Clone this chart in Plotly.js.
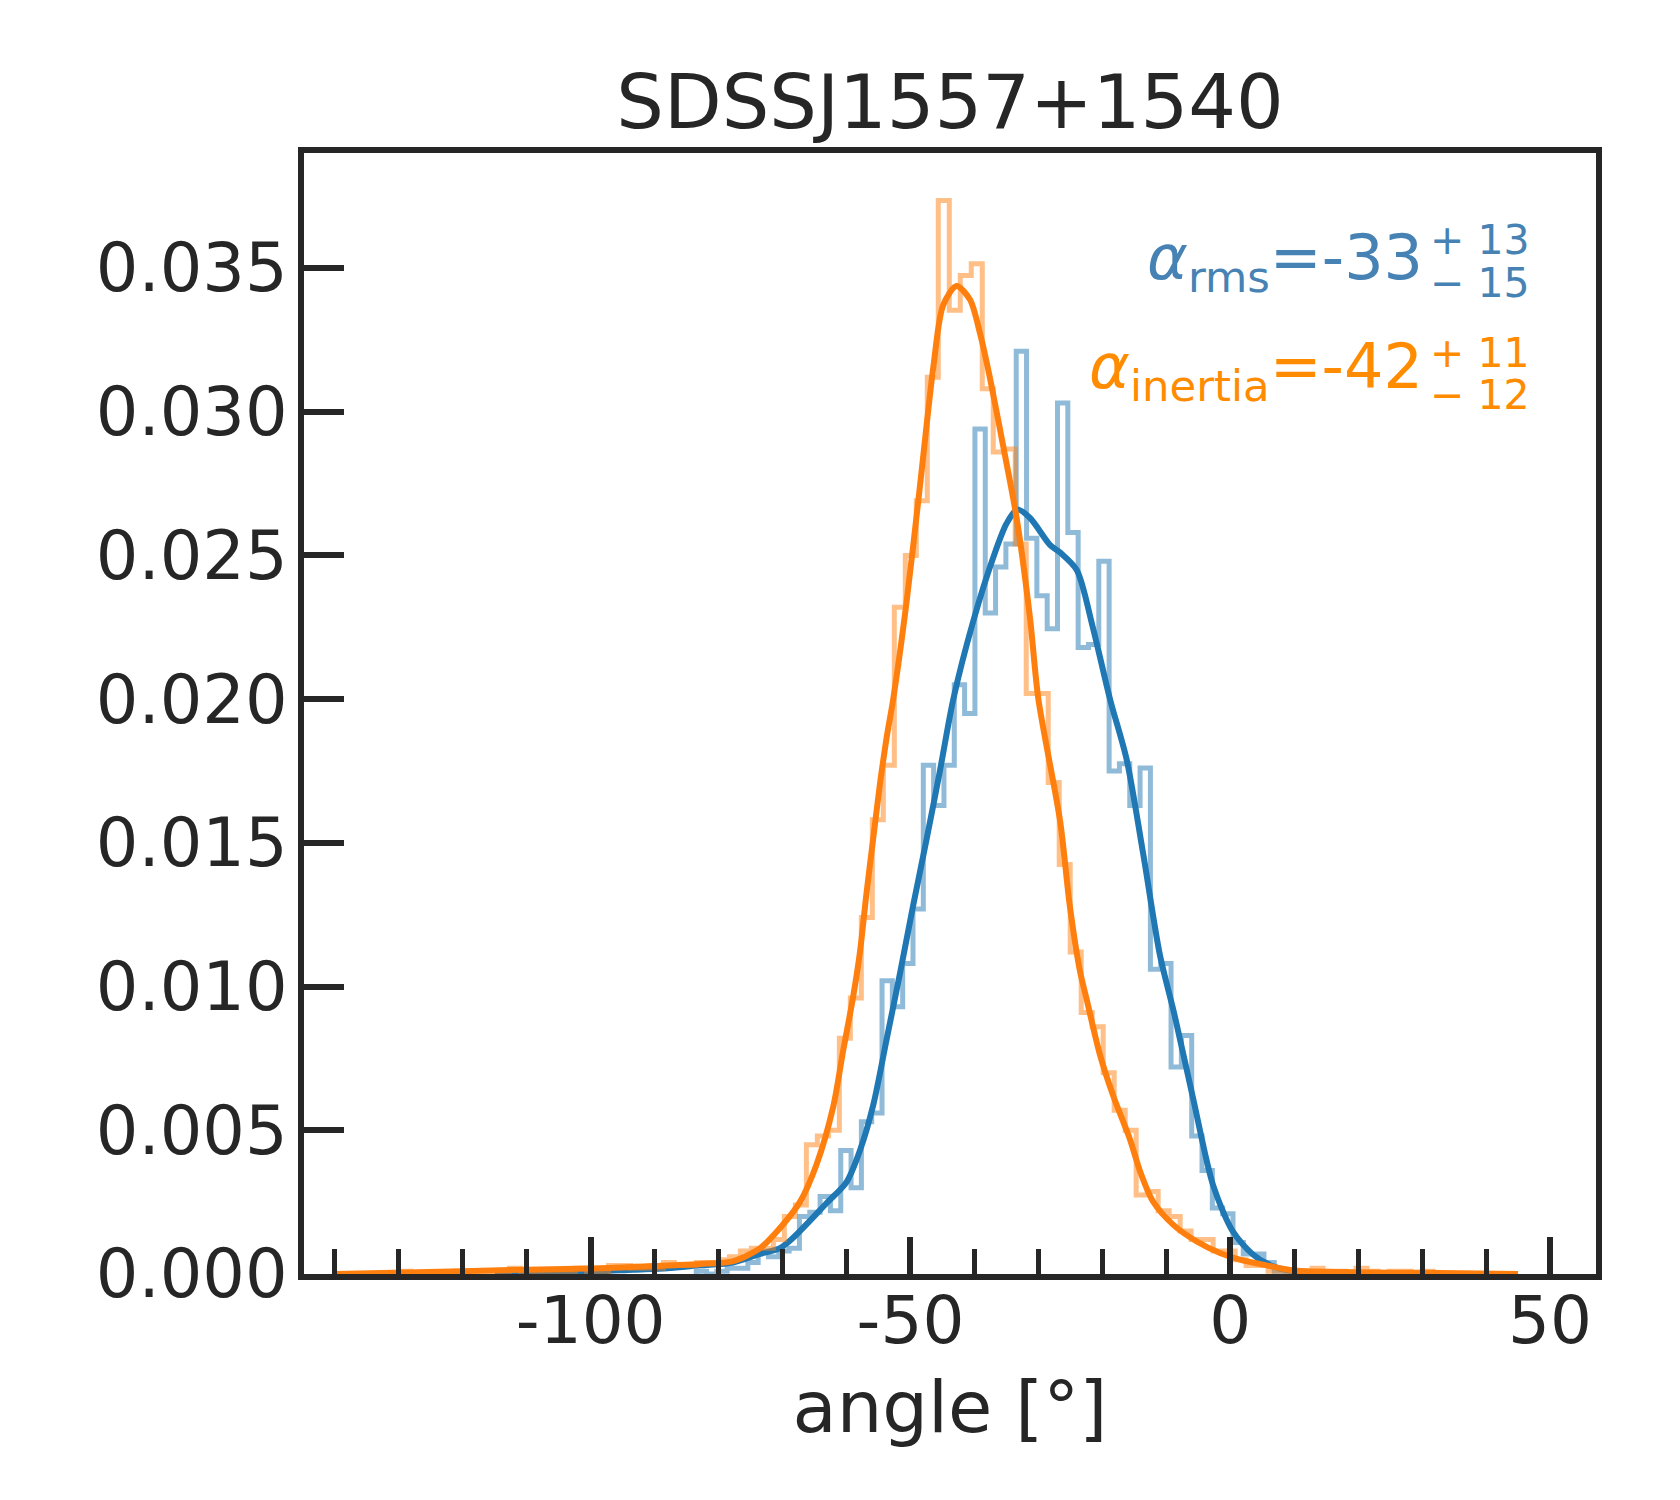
<!DOCTYPE html>
<html>
<head>
<meta charset="utf-8">
<script src="https://cdn.plot.ly/plotly-3.0.1.min.js"></script>
<style>
  body { margin: 0; background: white; }
  #chart { width: 1680px; height: 1500px; }
</style>
</head>
<body>
<div id="chart"></div>
<script>
// histogram of the rms angle (density), bins of equal width
var rmsBinStart = -83.50
var rmsBinWidth = 1.614
var rmsDensity = [
  0.0001, 0.0000, 0.0001, 0.0002, 0.0002, 0.0004, 0.0008, 0.0006, 0.0008, 0.0009,
  0.0020, 0.00215, 0.0027, 0.0022, 0.0043, 0.0030, 0.0053, 0.0056, 0.0102, 0.0093,
  0.0108, 0.0127, 0.0177, 0.0163, 0.0177, 0.0205, 0.0195, 0.0294, 0.0230, 0.0246,
  0.0254, 0.0321, 0.0256, 0.0236, 0.02245, 0.0303, 0.0258, 0.0218, 0.0219, 0.0248,
  0.0175, 0.01775, 0.0163, 0.0176, 0.0106, 0.0108, 0.0072, 0.0083, 0.0048, 0.0036,
  0.0023, 0.0021, 0.0011, 0.0007, 0.0007, 0.0004, 0.0001, 0.0000, 0.0001, 0.0000
]

// histogram of the inertia angle (density)
var inertiaBinStart = -135.04
var inertiaBinWidth = 1.719
var inertiaDensity = [
  0, 0, 0, 0.0001, 0, 0, 0, 0, 0.0001, 0.0001,
  0.0001, 0.0001, 0.0001, 0.0002, 0.0001, 0.0001, 0.0001, 0.0001, 0.0001, 0.0002,
  0.0001, 0.0001, 0.0003, 0.0003, 0.0002, 0.0002, 0.0002, 0.0004, 0.0003, 0.0003,
  0.0004, 0.0004, 0.0005, 0.0006, 0.0008, 0.0009, 0.0009, 0.0012, 0.0020, 0.0024,
  0.0045, 0.0048, 0.0050, 0.0082, 0.0096, 0.0124, 0.0158, 0.0177, 0.0232, 0.0250,
  0.0269, 0.0312, 0.03735, 0.03353, 0.03474, 0.03515, 0.0308, 0.0286, 0.0287, 0.0254,
  0.0202, 0.0202, 0.0171, 0.01425, 0.0112, 0.0091, 0.0086, 0.0070, 0.0057, 0.0050,
  0.00275, 0.00287, 0.0022, 0.0020, 0.0015, 0.0012, 0.0012, 0.0008, 0.0008, 0.0005,
  0.0003, 0.0003, 0.0001, 0.0001, 0, 0.0001, 0.0002, 0.0001, 0.0001, 0,
  0.0002, 0.0001, 0, 0.0001, 0.0001, 0, 0.0001, 0, 0, 0
]

// kde curves
var rmsKdeX = [-115, -100, -93.3, -88, -82.9, -77.7, -73.5, -70.4, -68.4, -63.1, -60.0, -57.9, -55.8,
  -53.7, -51.6, -49.6, -47.5, -45.4, -43.3, -40.2, -37.1, -35.0, -33.3, -31.3, -28.2, -26.6,
  -24.0, -21.6, -18.8, -16.2, -13.6, -11.0, -8.7, -5.8, -2.7, 0.4, 3.6, 6.7, 10, 20, 30]
var rmsKdeY = [0, 0.00008, 0.00015, 0.0002, 0.0003, 0.0004, 0.0007, 0.0009, 0.00125, 0.00247, 0.0032, 0.0043, 0.0059,
  0.0082, 0.0105, 0.0128, 0.0151, 0.0175, 0.0200, 0.0227, 0.0249, 0.0261, 0.0266, 0.0263, 0.02537, 0.0251,
  0.02449, 0.0226, 0.0200, 0.0179, 0.0146, 0.0111, 0.0090, 0.0061, 0.0031, 0.00148, 0.00067, 0.00027, 0.0001, 0.00002, 0]

var inertiaKdeX = [-140, -120, -110, -98.5, -88, -82.9, -77.7, -73.5, -70.4, -67.3, -64.7, -62.1, -60.5,
  -59.0, -57.9, -56.9, -55.8, -54.8, -53.7, -52.7, -50.6, -48.5, -46.4, -44.9, -42.8, -40.7,
  -39.1, -37.6, -35.5, -33.4, -31.3, -30.0, -26.6, -25.1, -23.5, -22.5, -20.4, -18.3, -15.7,
  -14.1, -12.1, -8.9, -5.3, -1.6, 1.5, 5.7, 10, 20, 30, 45]
var inertiaKdeY = [0, 0.0001, 0.00015, 0.0002, 0.0003, 0.00035, 0.00045, 0.0009, 0.0016, 0.0025, 0.0038, 0.0058, 0.0078,
  0.0096, 0.0112, 0.0132, 0.0152, 0.0170, 0.0187, 0.0200, 0.0234, 0.02745, 0.0316, 0.0337, 0.03437, 0.0339,
  0.0327, 0.0312, 0.0288, 0.0263, 0.0228, 0.0200, 0.01575, 0.01283, 0.01054, 0.0096, 0.00765, 0.0062, 0.0047,
  0.00357, 0.00253, 0.00171, 0.00114, 0.00073, 0.0005, 0.0003, 0.00012, 0.00006, 0.00004, 0]

var xTickVals = [-100, -50, 0, 50]
var xTickText = ['-100', '-50', '0', '50']

var dark = '#262626'

// step outline like matplotlib histtype='step'
function stepOutline(start, width, heights) {
  var xs = [start], ys = [0]
  for (var i = 0; i < heights.length; i++) {
    xs.push(start + i * width)
    ys.push(heights[i])
  }
  var end = start + heights.length * width
  xs.push(end); ys.push(heights[heights.length - 1])
  xs.push(end); ys.push(0)
  return {x: xs, y: ys}
}

var rmsStep = stepOutline(rmsBinStart, rmsBinWidth, rmsDensity)
var inertiaStep = stepOutline(inertiaBinStart, inertiaBinWidth, inertiaDensity)

var traces = [
  {x: rmsStep.x, y: rmsStep.y, type: 'scatter', mode: 'lines',
   line: {shape: 'hv', color: 'rgba(31,119,180,0.5)', width: 5}},
  {x: rmsKdeX, y: rmsKdeY, type: 'scatter', mode: 'lines',
   line: {shape: 'spline', smoothing: 0.8, color: '#1f77b4', width: 6}},
  {x: inertiaStep.x, y: inertiaStep.y, type: 'scatter', mode: 'lines',
   line: {shape: 'hv', color: 'rgba(255,127,14,0.5)', width: 5}},
  {x: inertiaKdeX, y: inertiaKdeY, type: 'scatter', mode: 'lines',
   line: {shape: 'spline', smoothing: 0.8, color: '#ff7f0e', width: 6}}
]

var layout = {
  width: 1680, height: 1500,
  margin: {l: 304, r: 84, t: 153, b: 226, pad: 0},
  paper_bgcolor: 'white', plot_bgcolor: 'white',
  showlegend: false,
  font: {family: 'DejaVu Sans', color: dark},
  title: {text: 'SDSSJ1557+1540', font: {size: 75, color: dark},
          x: 0.5, xref: 'paper', xanchor: 'center',
          y: 1 - 102 / 1500, yref: 'container', yanchor: 'middle'},
  xaxis: {
    range: [-144.83, 57.19], tickmode: 'array', tickvals: xTickVals, ticktext: xTickText,
    ticks: 'inside', ticklen: 37, tickwidth: 6, tickcolor: dark,
    minor: {tickmode: 'linear', tick0: 0, dtick: 10, ticks: 'inside', ticklen: 25,
            tickwidth: 5, tickcolor: dark, showgrid: false},
    showgrid: false, zeroline: false, showline: true, mirror: true,
    linewidth: 6, linecolor: dark,
    tickfont: {size: 66, color: dark}, ticklabelstandoff: -16,
    title: {text: 'angle [°]', font: {size: 72, color: dark}, standoff: 25},
    automargin: false
  },
  yaxis: {
    range: [0, 0.0390], tickmode: 'linear', tick0: 0, dtick: 0.005, tickformat: '.3f',
    ticks: 'inside', ticklen: 40, tickwidth: 6, tickcolor: dark,
    showgrid: false, zeroline: false, showline: true, mirror: true,
    linewidth: 6, linecolor: dark,
    tickfont: {size: 67, color: dark}, ticklabelstandoff: -3,
    automargin: false
  },
  annotations: [
    {text: '<i>α</i><sub>rms</sub>=-33', xref: 'paper', yref: 'paper',
     x: 0.868, y: 0.9031, xanchor: 'right', yanchor: 'middle', showarrow: false,
     font: {size: 62, color: '#4682b4'}},
    {text: '+ 13', xref: 'paper', yref: 'paper', x: 0.870, y: 0.9222,
     xanchor: 'left', yanchor: 'middle', showarrow: false, font: {size: 41, color: '#4682b4'}},
    {text: '− 15', xref: 'paper', yref: 'paper', x: 0.870, y: 0.8840,
     xanchor: 'left', yanchor: 'middle', showarrow: false, font: {size: 41, color: '#4682b4'}},
    {text: '<i>α</i><sub>inertia</sub>=-42', xref: 'paper', yref: 'paper',
     x: 0.868, y: 0.8062, xanchor: 'right', yanchor: 'middle', showarrow: false,
     font: {size: 62, color: '#ff8c00'}},
    {text: '+ 11', xref: 'paper', yref: 'paper', x: 0.870, y: 0.8214,
     xanchor: 'left', yanchor: 'middle', showarrow: false, font: {size: 41, color: '#ff8c00'}},
    {text: '− 12', xref: 'paper', yref: 'paper', x: 0.870, y: 0.7842,
     xanchor: 'left', yanchor: 'middle', showarrow: false, font: {size: 41, color: '#ff8c00'}}
  ]
}

Plotly.newPlot('chart', traces, layout, {staticPlot: true})
</script>
</body>
</html>
